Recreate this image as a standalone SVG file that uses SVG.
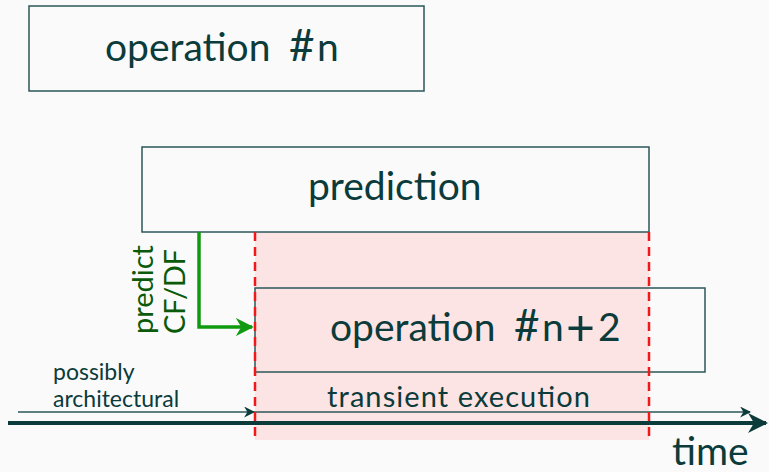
<svg xmlns="http://www.w3.org/2000/svg" width="769" height="472" viewBox="0 0 769 472">
  <defs>
    <style>
      .box { fill: none; stroke: #2b5757; stroke-width: 1.5; }
      .lbl { font-family: Lato, "Open Sans", sans-serif; fill: #0b3b3b; }
      .big { font-size: 39px; }
      .sym { font-size: 44px; }
      .plus { font-size: 50px; }
      .mid { font-size: 29px; }
      .small { font-size: 23px; }
      .green { font-family: Lato, "Open Sans", sans-serif; fill: #0a5a0a; font-size: 29px; }
      .dash { stroke: #f01818; stroke-width: 2.5; stroke-dasharray: 9 6; fill: none; }
    </style>
    <marker id="ahThin" viewBox="0 0 10 10" refX="9" refY="5" markerWidth="11" markerHeight="11" markerUnits="userSpaceOnUse" orient="auto">
      <path d="M0,0 L10,5 L0,10 L3,5 Z" fill="#0b3b3b"/>
    </marker>
    <marker id="ahThick" viewBox="0 0 10 10" refX="9" refY="5" markerWidth="20" markerHeight="20" markerUnits="userSpaceOnUse" orient="auto">
      <path d="M0,0 L10,5 L0,10 L3,5 Z" fill="#0b3b3b"/>
    </marker>
    <marker id="ahGreen" viewBox="0 0 10 10" refX="9" refY="5" markerWidth="18" markerHeight="18" markerUnits="userSpaceOnUse" orient="auto">
      <path d="M0,0 L10,5 L0,10 L3,5 Z" fill="#109a10"/>
    </marker>
  </defs>
  <rect width="769" height="472" fill="#fafafa"/>

  <!-- transient window -->
  <g id="transient-window">
    <rect x="255" y="232" width="394" height="208" fill="#fde4e4"/>
  </g>

  <g id="op-n">
    <rect class="box" x="29" y="6" width="395" height="85"/>
    <text class="lbl big" y="61"><tspan x="105">operation</tspan><tspan class="sym" x="289">#</tspan><tspan x="317">n</tspan></text>
  </g>

  <g id="prediction">
    <rect class="box" x="142" y="147" width="507" height="85"/>
    <text class="lbl big" x="308" y="200">prediction</text>
  </g>

  <g id="op-n2">
    <rect class="box" x="255" y="288" width="450" height="84"/>
    <text class="lbl big" y="341"><tspan x="330">operation</tspan><tspan class="sym" x="514">#</tspan><tspan x="542">n</tspan><tspan class="plus" x="566" dy="4">+</tspan><tspan x="598" dy="-4">2</tspan></text>
  </g>

  <g id="predict-label">
    <text class="green" transform="translate(153,334) rotate(-90)" textLength="89">predict</text>
    <text class="green" transform="translate(185,334) rotate(-90)" textLength="85">CF/DF</text>
  </g>

  <g id="labels">
    <text class="lbl small" x="53" y="380">possibly</text>
    <text class="lbl small" x="53" y="407">architectural</text>
    <text class="lbl mid" x="327" y="407" textLength="263">transient execution</text>
    <text class="lbl big" x="672" y="465">time</text>
  </g>

  <g id="connectors">
    <path d="M199,232 V327 H252" fill="none" stroke="#109a10" stroke-width="3.5" marker-end="url(#ahGreen)"/>
    <line x1="18" y1="412" x2="254" y2="412" stroke="#2b5757" stroke-width="1.5" marker-end="url(#ahThin)"/>
    <line x1="254" y1="412" x2="750" y2="412" stroke="#2b5757" stroke-width="1.5" marker-end="url(#ahThin)"/>
    <line x1="8" y1="423" x2="766" y2="423" stroke="#0b3b3b" stroke-width="4" marker-end="url(#ahThick)"/>
    <line class="dash" x1="255" y1="232" x2="255" y2="440"/>
    <line class="dash" x1="649" y1="232" x2="649" y2="440"/>
  </g>
</svg>
